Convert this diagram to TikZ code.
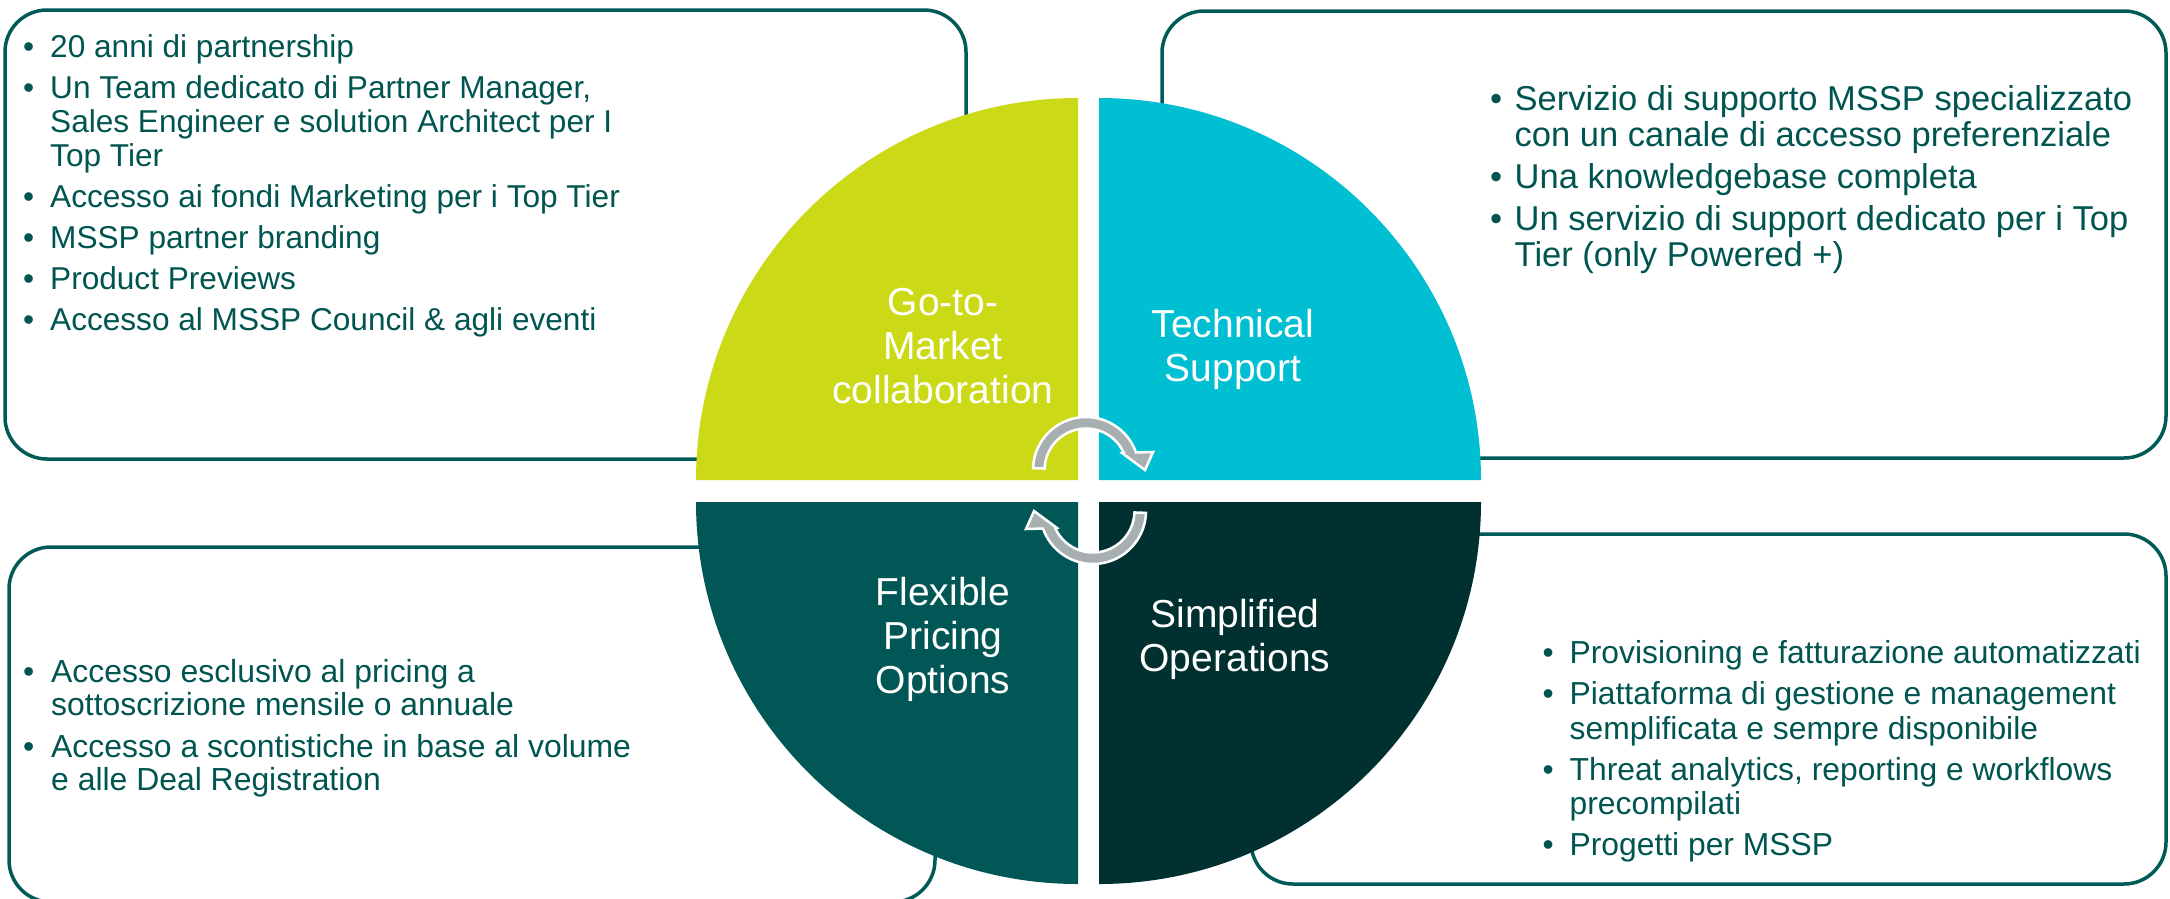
\documentclass[tikz,border=0pt]{standalone}
\usepackage{fontspec}
\setmainfont{Liberation Sans}
\definecolor{qyellow}{RGB}{204,217,22}
\definecolor{qcyan}{RGB}{0,191,211}
\definecolor{qteal}{RGB}{0,87,85}
\definecolor{qdark}{RGB}{0,48,48}
\definecolor{txtcol}{RGB}{0,85,80}
\definecolor{boxcol}{RGB}{0,90,87}
\definecolor{arrgrey}{RGB}{168,175,176}
\newcommand\Bx[1]{\makebox[#1][l]{•}}
\begin{document}
\begin{tikzpicture}[x=1pt,y=-1pt,
  infobox/.style={draw=boxcol, line width=3.5pt, rounded corners=42pt},
  txt/.style={inner sep=0pt, anchor=base west, text=txtcol},
  lab/.style={inner sep=0pt, anchor=base, text=white, font=\fontsize{39}{44}\selectfont},
  rotarr/.style={fill=arrgrey, draw=white, line width=2.5pt, line join=miter}]
\useasboundingbox (0,0) rectangle (2170,898);
\fill[white] (0,0) rectangle (2170,898);
% boxes
\draw[infobox] (5,10) rectangle (966,459);
\draw[infobox] (1162,11) rectangle (2166,458);
\draw[infobox] (9,547) rectangle (935,902);
\draw[infobox] (1251,534) rectangle (2166,884);
% quadrants
\fill[qyellow] (1078,480) -- (696,480) arc[start angle=180, end angle=270, radius=382] -- cycle;
\fill[qcyan] (1099,480) -- (1099,98) arc[start angle=270, end angle=360, radius=382] -- cycle;
\fill[qteal] (1078,502) -- (696,502) arc[start angle=180, end angle=90, radius=382] -- cycle;
\fill[qdark] (1099,502) -- (1099,884) arc[start angle=90, end angle=0, radius=382] -- cycle;
% circular arrows
\begin{scope}[shift={(1086,470)}, yscale=-1]
\filldraw[rotarr] (178:53) arc[start angle=178, end angle=19.3, radius=53] -- (67,18) -- (59,0) -- (36,17) -- (25:41.5) arc[start angle=25, end angle=178, radius=41.5] -- cycle;
\end{scope}
\begin{scope}[shift={(1093,511)}, yscale=-1, rotate=180]
\filldraw[rotarr] (178:53) arc[start angle=178, end angle=19.3, radius=53] -- (67,18) -- (59,0) -- (36,17) -- (25:41.5) arc[start angle=25, end angle=178, radius=41.5] -- cycle;
\end{scope}
% quadrant labels
\node[lab] (lgtm) at (943,315) {\begin{tabular}[t]{@{}c@{}}Go-to-\\Market\\collaboration\end{tabular}};
\node[lab] (ltech) at (1233,337) {\begin{tabular}[t]{@{}c@{}}Technical\\Support\end{tabular}};
\node[lab] (lflex) at (943,605) {\begin{tabular}[t]{@{}c@{}}Flexible\\Pricing\\Options\end{tabular}};
\node[lab] (lsimp) at (1235,627) {\begin{tabular}[t]{@{}c@{}}Simplified\\Operations\end{tabular}};
% texts
\node[txt] (ttl) at (23,57) {\fontsize{31.6}{34}\selectfont
\begin{tabular}[t]{@{}l@{}l@{}}
\Bx{27pt} & 20 anni di partnership\\[7pt]
\Bx{27pt} & Un Team dedicato di Partner Manager,\\
 & Sales Engineer e solution Architect per I\\
 & Top Tier\\[7pt]
\Bx{27pt} & Accesso ai fondi Marketing per i Top Tier\\[7pt]
\Bx{27pt} & MSSP partner branding\\[7pt]
\Bx{27pt} & Product Previews\\[7pt]
\Bx{27pt} & Accesso al MSSP Council \& agli eventi
\end{tabular}};
\node[txt] (ttr) at (1490,110.5) {\fontsize{34.5}{36}\selectfont
\begin{tabular}[t]{@{}l@{}l@{}}
\Bx{24.5pt} & Servizio di supporto MSSP specializzato\\
 & con un canale di accesso preferenziale\\[6pt]
\Bx{24.5pt} & Una knowledgebase completa\\[6pt]
\Bx{24.5pt} & Un servizio di support dedicato per i Top\\
 & Tier (only Powered +)
\end{tabular}};
\node[txt] (tbl) at (23,682) {\fontsize{31.9}{33}\selectfont
\begin{tabular}[t]{@{}l@{}l@{}}
\Bx{28pt} & Accesso esclusivo al pricing a\\
 & sottoscrizione mensile o annuale\\[9pt]
\Bx{28pt} & Accesso a scontistiche in base al volume\\
 & e alle Deal Registration
\end{tabular}};
\node[txt] (tbr) at (1542.5,663.5) {\fontsize{31.8}{34.5}\selectfont
\begin{tabular}[t]{@{}l@{}l@{}}
\Bx{27pt} & Provisioning e fatturazione automatizzati\\[6.5pt]
\Bx{27pt} & Piattaforma di gestione e management\\
 & semplificata e sempre disponibile\\[6.5pt]
\Bx{27pt} & Threat analytics, reporting e workflows\\
 & precompilati\\[6.5pt]
\Bx{27pt} & Progetti per MSSP
\end{tabular}};
\end{tikzpicture}
\end{document}
